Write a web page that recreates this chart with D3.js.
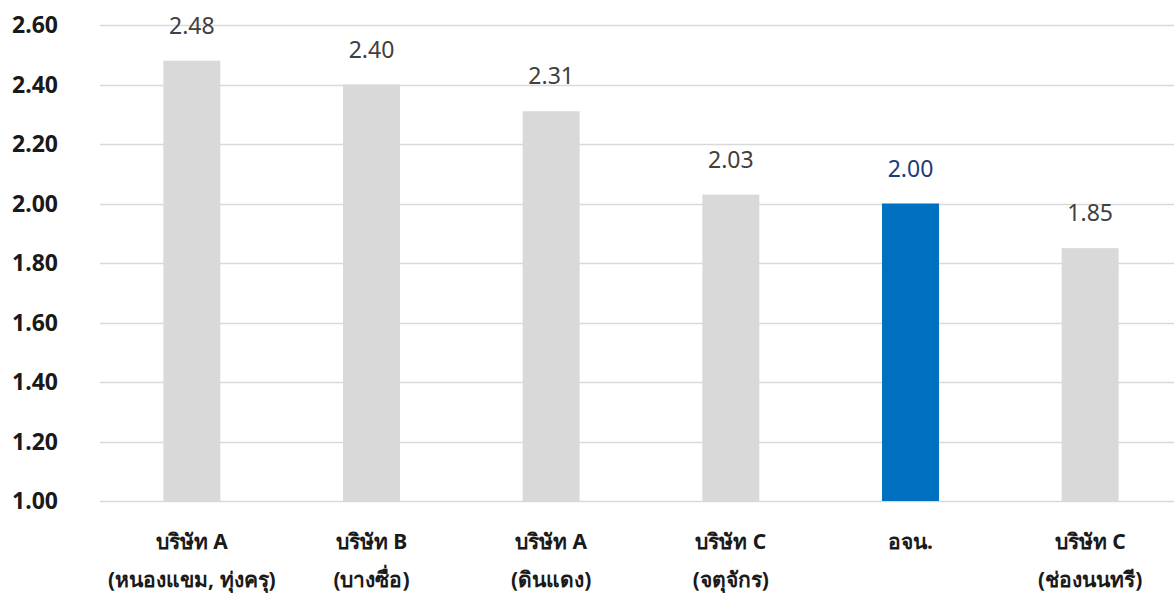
<!DOCTYPE html>
<html><head><meta charset="utf-8">
<script src="https://cdn.jsdelivr.net/npm/d3@7"></script>
<style>
html,body{margin:0;padding:0;background:#fff;}
svg{display:block;font-family:"Noto Sans","DejaVu Sans",sans-serif;}
</style></head>
<body>
<svg id="chart" width="1174" height="599"></svg>
<script>
const categoriesLine1 = ["บริษัท A","บริษัท B","บริษัท A","บริษัท C","อจน.","บริษัท C"];
const categoriesLine2 = ["(หนองแขม, ทุ่งครุ)","(บางซื่อ)","(ดินแดง)","(จตุจักร)","","(ช่องนนทรี)"];
const values = [2.48, 2.40, 2.31, 2.03, 2.00, 1.85];
const highlight = [false,false,false,false,true,false];
const yTicks = [1.00,1.20,1.40,1.60,1.80,2.00,2.20,2.40,2.60];

(function(){
const svg = d3.select("#chart");
const plotLeft = 102, plotRight = 1180, plotTop = 25, plotBottom = 501;
const x = d3.scaleBand().domain(d3.range(values.length)).range([plotLeft,plotRight]).paddingInner(0.683).paddingOuter(0.3415);
const y = d3.scaleLinear().domain([1.0,2.6]).range([plotBottom,plotTop]);

// gridlines
svg.append("g").selectAll("line").data(yTicks).join("line")
  .attr("x1",100).attr("x2",1174)
  .attr("y1",d=>Math.round(y(d))+0.5).attr("y2",d=>Math.round(y(d))+0.5)
  .attr("stroke","#d9d9d9").attr("stroke-width",1.5);

// y tick labels
svg.append("g").selectAll("text").data(yTicks).join("text")
  .attr("x",58).attr("y",d=>y(d)).attr("dy","0.36em")
  .attr("text-anchor","end").attr("font-size",23).attr("font-weight","bold")
  .attr("fill","#1a1a1a").text(d=>d3.format(".2f")(d));

// bars
svg.append("g").selectAll("rect").data(values).join("rect")
  .attr("x",(d,i)=>x(i)).attr("width",x.bandwidth())
  .attr("y",d=>y(d)).attr("height",d=>y(1.0)-y(d))
  .attr("fill",(d,i)=>highlight[i]?"#0070c0":"#d9d9d9");

// value labels
svg.append("g").selectAll("text").data(values).join("text")
  .attr("x",(d,i)=>x(i)+x.bandwidth()/2).attr("y",d=>y(d)-27)
  .attr("text-anchor","middle").attr("font-size",23)
  .attr("fill",(d,i)=>highlight[i]?"#1f3a78":"#404040")
  .text(d=>d3.format(".2f")(d));

// category labels
const cat = svg.append("g").selectAll("text").data(values).join("text")
  .attr("text-anchor","middle").attr("font-size",21).attr("font-weight","bold")
  .attr("fill","#1a1a1a");
cat.append("tspan").attr("x",(d,i)=>x(i)+x.bandwidth()/2).attr("y",549).text((d,i)=>categoriesLine1[i]);
cat.append("tspan").attr("x",(d,i)=>x(i)+x.bandwidth()/2).attr("y",587).text((d,i)=>categoriesLine2[i]);
})();
</script>
</body></html>
